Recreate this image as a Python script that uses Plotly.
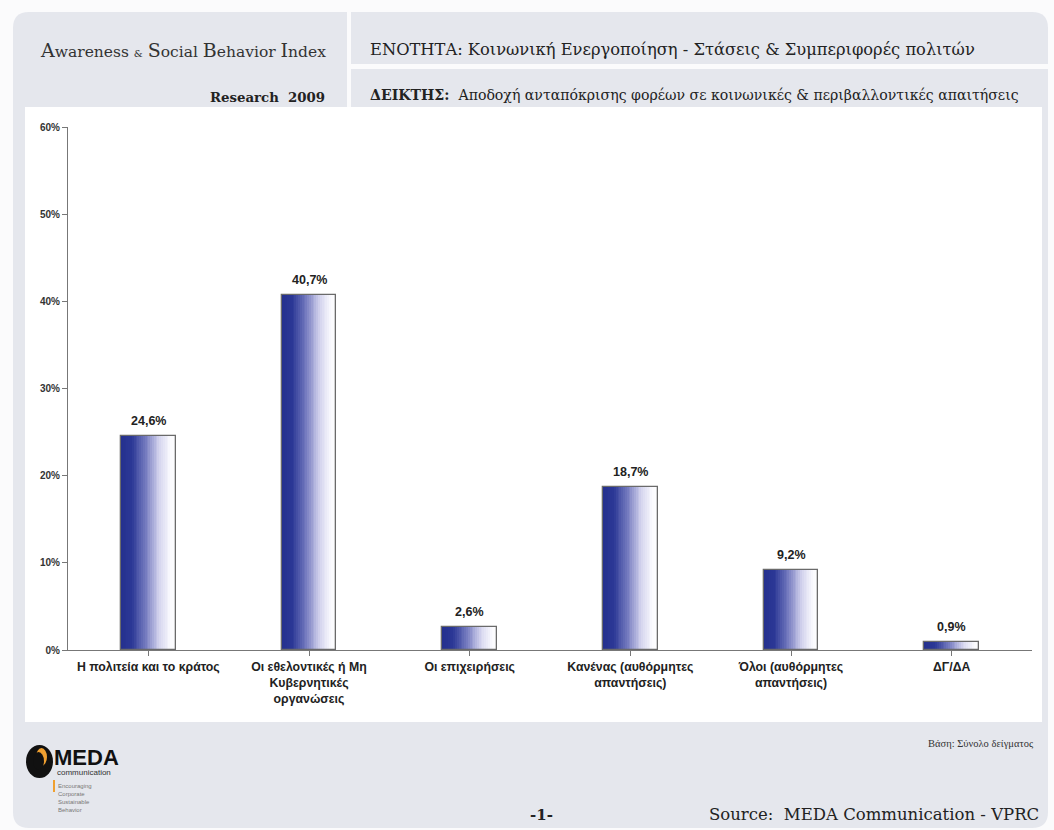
import plotly.graph_objects as go

# ---------------- data ----------------
categories = [
    "Η πολιτεία και το κράτος",
    "Οι εθελοντικές ή Μη<br>Κυβερνητικές<br>οργανώσεις",
    "Οι επιχειρήσεις",
    "Κανένας (αυθόρμητες<br>απαντήσεις)",
    "Όλοι (αυθόρμητες<br>απαντήσεις)",
    "ΔΓ/ΔΑ",
]
values = [24.6, 40.7, 2.6, 18.7, 9.2, 0.9]
y_ticks = [0, 10, 20, 30, 40, 50, 60]

W, H = 1054, 830
L, R, T, B = 68, 1032, 127, 650  # plot area in pixels


def px(x):
    return (x - L) / (R - L)


def py(y):
    return (B - y) / (B - T)


def lerp(c1, c2, t):
    return tuple(int(round(a + (b - a) * t)) for a, b in zip(c1, c2))


stops = [(0.0, (36, 48, 142)), (0.2, (44, 56, 150)), (0.45, (118, 124, 192)),
         (0.7, (212, 212, 238)), (0.9, (250, 250, 254)), (1.0, (255, 255, 255))]


def grad(t):
    for (t0, c0), (t1, c1) in zip(stops[:-1], stops[1:]):
        if t <= t1:
            return "rgb(%d,%d,%d)" % lerp(c0, c1, (t - t0) / (t1 - t0))
    return "rgb(255,255,255)"


fig = go.Figure()
bw = 0.342
N = 30
x_idx = list(range(len(categories)))
for i in range(N):
    t = (i + 0.5) / N
    fig.add_trace(go.Bar(
        x=x_idx, y=values, width=bw / N * 1.15, offset=-bw / 2 + i * bw / N,
        marker=dict(color=grad(t), line=dict(width=0)),
        hoverinfo="skip", showlegend=False))

fig.add_trace(go.Bar(
    x=x_idx, y=values, width=bw, offset=-bw / 2,
    marker=dict(color="rgba(0,0,0,0)", line=dict(color="#6a6a6a", width=1.3)),
    showlegend=False))

labels = [("%.1f" % v).replace(".", ",") + "%" for v in values]

# ---------------- background shapes ----------------
shapes = []


def rounded(x0, y0, x1, y1, r, color):
    X0, X1 = px(x0), px(x1)
    Y0, Y1 = py(y0), py(y1)
    rx = r / (R - L)
    ry = r / (B - T)
    path = (f"M {X0+rx},{Y0} L {X1-rx},{Y0} Q {X1},{Y0} {X1},{Y0-ry} "
            f"L {X1},{Y1+ry} Q {X1},{Y1} {X1-rx},{Y1} L {X0+rx},{Y1} "
            f"Q {X0},{Y1} {X0},{Y1+ry} L {X0},{Y0-ry} Q {X0},{Y0} {X0+rx},{Y0} Z")
    return dict(type="path", path=path, xref="paper", yref="paper",
                fillcolor=color, line=dict(width=0), layer="below")


def rect(x0, y0, x1, y1, color, layer="below"):
    return dict(type="rect", xref="paper", yref="paper",
                x0=px(x0), x1=px(x1), y0=py(y1), y1=py(y0),
                fillcolor=color, line=dict(width=0), layer=layer)


shapes.append(rounded(13, 12, 1048, 828, 16, "#e5e7ed"))
shapes.append(rect(347, 12, 351, 107, "#fbfbfc"))
shapes.append(rect(351, 64, 1048, 69, "#fbfbfc"))
shapes.append(rect(25, 107, 1042, 722, "#ffffff"))
# logo
shapes.append(dict(type="circle", xref="paper", yref="paper",
                   x0=px(26), x1=px(53), y0=py(778), y1=py(745),
                   fillcolor="#111", line=dict(width=0), layer="above"))
shapes.append(dict(type="circle", xref="paper", yref="paper",
                   x0=px(36), x1=px(47), y0=py(766), y1=py(748),
                   fillcolor="#f0a030", line=dict(width=0), layer="above"))
shapes.append(dict(type="circle", xref="paper", yref="paper",
                   x0=px(33), x1=px(44), y0=py(770), y1=py(752),
                   fillcolor="#111", line=dict(width=0), layer="above"))
shapes.append(rect(53, 780, 55, 792, "#f0a030", layer="above"))

ann = []
# data labels (anchored on data coordinates)
for xi, v, lab in zip(x_idx, values, labels):
    ann.append(dict(x=xi, y=v, xref="x", yref="y", text=lab, showarrow=False,
                    yanchor="bottom", yshift=6,
                    font=dict(family="Liberation Sans, Arial", size=12.5, color="#222", weight="bold")))

SERIF = "DejaVu Serif, Liberation Serif, serif"


def text(x, y, s, size, anchor="left", family=SERIF, color="#222", weight="normal"):
    ann.append(dict(x=px(x), y=py(y), xref="paper", yref="paper", text=s,
                    showarrow=False, xanchor=anchor, yanchor="middle",
                    font=dict(family=family, size=size, color=color, weight=weight)))


big = '<span style="font-size:19px">'
text(183, 50, big + "A</span>wareness <span style=\"font-size:10px\">&</span> " + big + "S</span>ocial "
     + big + "B</span>ehavior " + big + "I</span>ndex", 15.5, anchor="center", color="#333")
text(327, 97, "Research  2009", 13.3, anchor="right", color="#222", weight="bold")
text(368, 50, "ΕΝΟΤΗΤΑ: Κοινωνική Ενεργοποίηση - Στάσεις & Συμπεριφορές πολιτών", 16.3, color="#222")
text(368, 95, "<b>ΔΕΙΚΤΗΣ:</b>  Αποδοχή ανταπόκρισης φορέων σε κοινωνικές & περιβαλλοντικές απαιτήσεις", 14.1, color="#222")
text(1036, 743, "Βάση: Σύνολο δείγματος", 10.5, anchor="right", family="Liberation Serif, serif", color="#333")
text(541, 815, "-1-", 15, anchor="center", color="#222", weight="bold")
text(1041, 815, "Source:  MEDA Communication - VPRC", 16.5, anchor="right", color="#222")
text(52, 757, "MEDA", 22, family="Liberation Sans, Arial", color="#111", weight="bold")
text(55, 772, "communication", 8, family="Liberation Sans, Arial", color="#333")
for k, w in enumerate(["Encouraging", "Corporate", "Sustainable", "Behavior"]):
    text(56, 786 + 8 * k, w, 6, family="Liberation Sans, Arial", color="#777")

fig.update_layout(
    width=W, height=H,
    margin=dict(l=L, r=W - R, t=T, b=H - B),
    barmode="overlay", bargap=0,
    paper_bgcolor="#fbfbfc", plot_bgcolor="rgba(0,0,0,0)",
    shapes=shapes, annotations=ann,
    showlegend=False,
)
fig.update_xaxes(
    range=[-0.5, len(categories) - 0.5], tickmode="array", tickvals=x_idx, ticktext=categories,
    tickson="boundaries", ticks="outside", ticklen=5, tickcolor="#777",
    showline=True, linecolor="#777", linewidth=1.2, showgrid=False, zeroline=False,
    tickfont=dict(family="Liberation Sans, Arial", size=12.3, color="#222", weight="bold"),
    fixedrange=True,
)
fig.update_yaxes(
    range=[0, 60], tickmode="array", tickvals=y_ticks, ticktext=[f"{v}%" for v in y_ticks],
    ticks="outside", ticklen=5, tickcolor="#777",
    showline=True, linecolor="#777", linewidth=1.2, showgrid=False, zeroline=False,
    tickfont=dict(family="Liberation Sans, Arial", size=10, color="#333", weight="bold"),
    fixedrange=True,
)
fig.write_html("out.html")
